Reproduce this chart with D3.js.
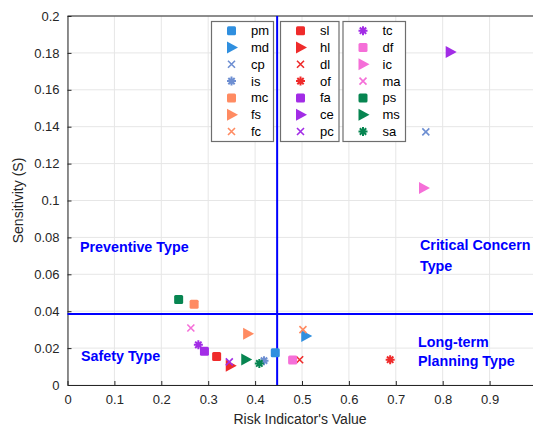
<!DOCTYPE html>
<html>
<head>
<meta charset="utf-8">
<script src="https://cdn.jsdelivr.net/npm/d3@7"></script>
<style>
body { margin: 0; background: #fff; }
text { font-family: "Liberation Sans", Arial, sans-serif; }
</style>
</head>
<body>
<script>
// indicator codes, risk value (x) and sensitivity (y)
const names = ["pm","md","cp","is","mc","fs","fc",
               "sl","hl","dl","of","fa","ce","pc",
               "tc","df","ic","ma","ps","ms","sa"];
const riskValues = [0.443,0.508,0.764,0.419,0.270,0.384,0.502,
                    0.318,0.347,0.495,0.688,0.292,0.816,0.345,
                    0.279,0.480,0.759,0.263,0.237,0.380,0.409];
const sensitivity = [0.0175,0.0265,0.1372,0.0132,0.0438,0.0278,0.0300,
                     0.0155,0.0105,0.0137,0.0137,0.0183,0.1805,0.0125,
                     0.0218,0.0135,0.1068,0.0309,0.0463,0.0138,0.0117];
const shapes = ["square","tri","x","star","square","tri","x",
                "square","tri","x","star","square","tri","x",
                "star","square","tri","x","square","tri","star"];
const colors = ["#2f8fdf","#2f8fdf","#6e8fd2","#6e8fd2","#ff8b62","#ff8b62","#ff8b62",
                "#ef2b2b","#ef2b2b","#ef2b2b","#ef2b2b","#a22ce6","#a22ce6","#a22ce6",
                "#a22ce6","#f56fd8","#f56fd8","#f56fd8","#078551","#078551","#078551"];
const xTicks = [0,0.1,0.2,0.3,0.4,0.5,0.6,0.7,0.8,0.9,1];
const yTicks = [0,0.02,0.04,0.06,0.08,0.1,0.12,0.14,0.16,0.18,0.2];
const xSplit = 0.447, ySplit = 0.0385;

const width = 533, height = 430;
const x = d3.scaleLinear().domain([0, 1]).range([67.5, 536.5]);
const y = d3.scaleLinear().domain([0, 0.2]).range([385, 16]);

const svg = d3.select("body").append("svg")
  .attr("width", width).attr("height", height);

const tickFmt = d => d === 0 ? "0" : d3.format("~g")(d);

// grid
svg.append("g").selectAll("line").data(xTicks).join("line")
  .attr("x1", d => x(d)).attr("x2", d => x(d))
  .attr("y1", y(0)).attr("y2", y(0.2))
  .attr("stroke", "#e6e6e6");
svg.append("g").selectAll("line").data(yTicks).join("line")
  .attr("x1", x(0)).attr("x2", x(1))
  .attr("y1", d => y(d)).attr("y2", d => y(d))
  .attr("stroke", "#e6e6e6");

// axes
const xAxis = svg.append("g").attr("transform", `translate(0,${y(0)})`)
  .call(d3.axisBottom(x).tickValues(xTicks.slice(0, 10)).tickFormat(tickFmt).tickSizeInner(-4).tickSizeOuter(0).tickPadding(10));
const yAxis = svg.append("g").attr("transform", `translate(${x(0)},0)`)
  .call(d3.axisLeft(y).tickValues(yTicks).tickFormat(tickFmt).tickSizeInner(-4).tickSizeOuter(0).tickPadding(8));
[xAxis, yAxis].forEach(a => {
  a.select(".domain").attr("stroke", "#262626");
  a.selectAll(".tick line").attr("stroke", "#262626");
  a.selectAll("text").attr("fill", "#262626").attr("font-size", 13)
    .style("font-family", "'Liberation Sans', Arial, sans-serif");
});
svg.append("line").attr("x1", x(0)).attr("x2", x(1)).attr("y1", y(0.2)).attr("y2", y(0.2))
  .attr("stroke", "#262626");

// axis labels
svg.append("text").attr("x", x(0.5) - 2).attr("y", 424).attr("text-anchor", "middle")
  .attr("font-size", 14).attr("fill", "#262626").text("Risk Indicator's Value");
svg.append("text").attr("transform", `translate(23,${(y(0) + y(0.2)) / 2}) rotate(-90)`)
  .attr("text-anchor", "middle").attr("font-size", 14).attr("fill", "#262626")
  .text("Sensitivity (S)");

// split lines
svg.append("line").attr("x1", x(xSplit)).attr("x2", x(xSplit)).attr("y1", y(0)).attr("y2", y(0.2))
  .attr("stroke", "#0000ff").attr("stroke-width", 2);
svg.append("line").attr("x1", x(0)).attr("x2", x(1)).attr("y1", y(ySplit)).attr("y2", y(ySplit))
  .attr("stroke", "#0000ff").attr("stroke-width", 2);

// quadrant labels
const labels = [
  {t: "Preventive Type", x: 80, y: 252},
  {t: "Critical Concern", x: 420, y: 250},
  {t: "Type", x: 420, y: 271},
  {t: "Safety Type", x: 81, y: 361},
  {t: "Long-term", x: 418, y: 347},
  {t: "Planning Type", x: 418, y: 366}
];
svg.append("g").selectAll("text").data(labels).join("text")
  .attr("x", d => d.x).attr("y", d => d.y)
  .attr("font-size", 14.3).attr("font-weight", "bold").attr("fill", "#0000ff")
  .text(d => d.t);

// marker drawing
function drawMarker(g, shape, color) {
  if (shape === "square") {
    g.append("rect").attr("x", -4.5).attr("y", -4.5).attr("width", 9).attr("height", 9)
      .attr("rx", 1.5).attr("fill", color);
  } else if (shape === "tri") {
    g.append("path").attr("d", "M-4.5,-6L6.5,0L-4.5,6Z").attr("fill", color);
  } else if (shape === "x") {
    g.append("path").attr("d", "M-3.5,-3.5L3.5,3.5M-3.5,3.5L3.5,-3.5")
      .attr("stroke", color).attr("stroke-width", 1.6);
  } else {
    let p = "";
    for (let i = 0; i < 4; i++) {
      const a = i * Math.PI / 4;
      p += `M${-4.5 * Math.cos(a)},${-4.5 * Math.sin(a)}L${4.5 * Math.cos(a)},${4.5 * Math.sin(a)}`;
    }
    g.append("path").attr("d", p).attr("stroke", color).attr("stroke-width", 2);
    g.append("circle").attr("r", 2.2).attr("fill", color);
  }
}

// points
names.forEach((n, i) => {
  const g = svg.append("g").attr("transform", `translate(${x(riskValues[i])},${y(sensitivity[i])})`);
  drawMarker(g, shapes[i], colors[i]);
});

// legend: three columns of seven
const boxes = [{x0: 211.5, w: 62}, {x0: 280.5, w: 58.5}, {x0: 343, w: 62.5}];
boxes.forEach((b, c) => {
  svg.append("rect").attr("x", b.x0).attr("y", 21.5).attr("width", b.w).attr("height", 120)
    .attr("fill", "#fff").attr("stroke", "#6e6e6e").attr("stroke-width", 1.2);
  for (let r = 0; r < 7; r++) {
    const i = c * 7 + r;
    const cy = 30.7 + r * 16.8;
    const g = svg.append("g").attr("transform", `translate(${b.x0 + 20},${cy})`);
    drawMarker(g, shapes[i], colors[i]);
    svg.append("text").attr("x", b.x0 + 39.5).attr("y", cy + 4.5)
      .attr("font-size", 13).attr("fill", "#000").text(names[i]);
  }
});
</script>
</body>
</html>
